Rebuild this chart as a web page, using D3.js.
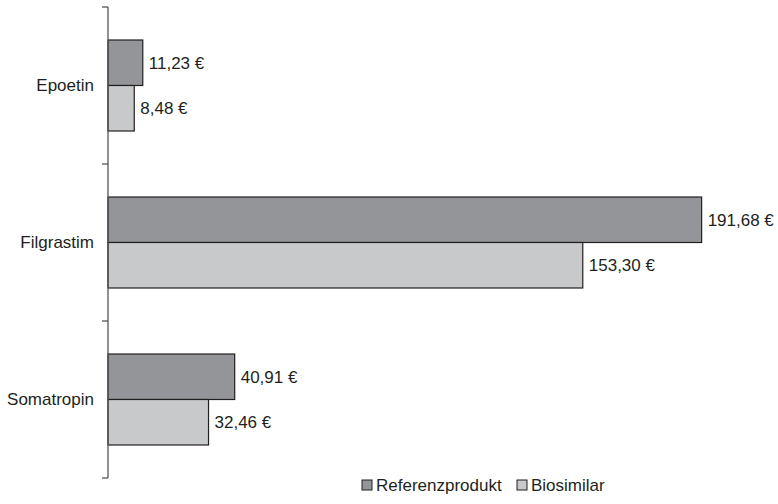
<!DOCTYPE html>
<html>
<head>
<meta charset="utf-8">
<script src="https://cdn.jsdelivr.net/npm/d3@7"></script>
<style>
  body { margin: 0; background: #fff; }
  text { font-family: "Liberation Sans", Arial, sans-serif; fill: #231f20; }
</style>
</head>
<body>
<div id="chart"></div>
<script>
let categories = ["Epoetin", "Filgrastim", "Somatropin"];
let seriesNames = ["Referenzprodukt", "Biosimilar"];
let referenz = [11.23, 191.68, 40.91];
let biosimilar = [8.48, 153.3, 32.46];
let colors = ["#939598", "#c8c9cb"];

let width = 778;
let height = 504;
let marginLeft = 108;
let marginTop = 7;
let plotHeight = 471;
let fontSize = "17px";

let rows = [];
categories.forEach(function (c, i) {
  rows.push({ cat: c, series: seriesNames[0], value: referenz[i] });
  rows.push({ cat: c, series: seriesNames[1], value: biosimilar[i] });
});

let svg = d3
  .select("#chart")
  .append("svg")
  .attr("width", width)
  .attr("height", height);

let xScale = d3.scaleLinear().domain([0, 200]).range([0, 619.4]);

let yScale = d3
  .scaleBand()
  .domain(categories)
  .range([0, plotHeight]);

let inner = d3
  .scaleBand()
  .domain(seriesNames)
  .range([33, yScale.bandwidth() - 33]);

let fmt = (v) => d3.format(".2f")(v).replace(".", ",") + " \u20ac";

let g = svg
  .append("g")
  .attr("transform", "translate(" + marginLeft + "," + marginTop + ")");

g.selectAll("rect.bar")
  .data(rows)
  .enter()
  .append("rect")
  .attr("class", "bar")
  .attr("x", 0)
  .attr("y", (d) => yScale(d.cat) + inner(d.series))
  .attr("width", (d) => xScale(d.value))
  .attr("height", inner.bandwidth())
  .attr("fill", (d) => colors[seriesNames.indexOf(d.series)])
  .attr("stroke", "#231f20")
  .attr("stroke-width", 1.2);

g.selectAll("text.val")
  .data(rows)
  .enter()
  .append("text")
  .attr("class", "val")
  .attr("x", (d) => xScale(d.value) + 6)
  .attr("y", (d) => yScale(d.cat) + inner(d.series) + inner.bandwidth() / 2)
  .attr("dy", "0.35em")
  .style("font-size", fontSize)
  .text((d) => fmt(d.value));

// axis with ticks at band boundaries
let yAxis = g.append("g").attr("class", "axis");
let bounds = categories.map((c) => yScale(c)).concat([plotHeight]);

yAxis
  .append("line")
  .attr("x1", 0)
  .attr("x2", 0)
  .attr("y1", 0)
  .attr("y2", plotHeight)
  .attr("stroke", "#555")
  .attr("stroke-width", 1.3);

yAxis
  .selectAll("line.tick")
  .data(bounds)
  .enter()
  .append("line")
  .attr("class", "tick")
  .attr("x1", -6)
  .attr("x2", 0)
  .attr("y1", (d) => d)
  .attr("y2", (d) => d)
  .attr("stroke", "#555")
  .attr("stroke-width", 1.3);

yAxis
  .selectAll("text")
  .data(categories)
  .enter()
  .append("text")
  .attr("x", -14)
  .attr("y", (d) => yScale(d) + yScale.bandwidth() / 2)
  .attr("dy", "0.35em")
  .attr("text-anchor", "end")
  .style("font-size", fontSize)
  .text((d) => d);

// legend
let legend = svg.append("g").attr("id", "legend");
let legendX = [362, 517];

legend
  .selectAll("rect")
  .data(seriesNames)
  .enter()
  .append("rect")
  .attr("x", (d, i) => legendX[i])
  .attr("y", 480)
  .attr("width", 10)
  .attr("height", 10)
  .attr("fill", (d, i) => colors[i])
  .attr("stroke", "#231f20")
  .attr("stroke-width", 1);

legend
  .selectAll("text")
  .data(seriesNames)
  .enter()
  .append("text")
  .attr("x", (d, i) => legendX[i] + 14)
  .attr("y", 485)
  .attr("dy", "0.35em")
  .style("font-size", fontSize)
  .text((d) => d);
</script>
</body>
</html>
